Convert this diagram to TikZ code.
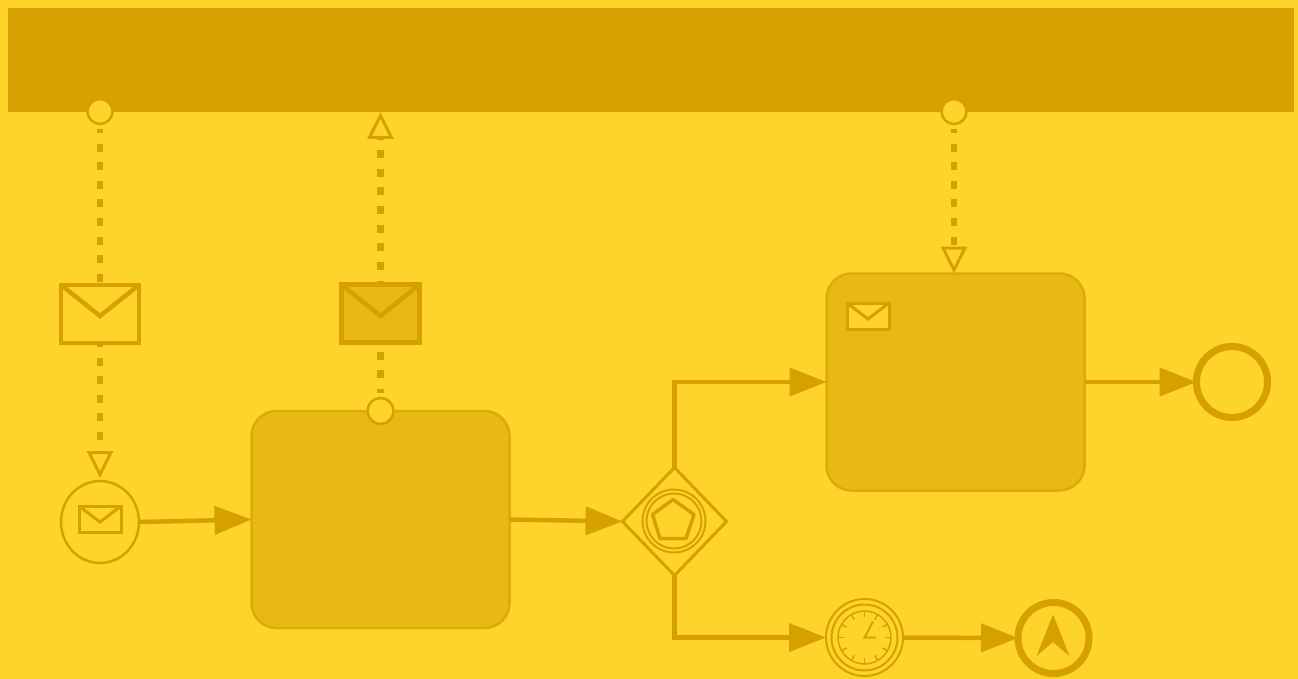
\documentclass[tikz,border=0pt]{standalone}
\usetikzlibrary{arrows.meta,shapes.geometric,calc}
\definecolor{bgc}{HTML}{FFD42A}
\definecolor{ink}{HTML}{D6A000}
\definecolor{taskc}{HTML}{E8B914}
\tikzset{
  every node/.style={inner sep=0pt,outer sep=0pt},
  seqflow/.style={draw=ink,line width=4.5pt,-{Triangle[length=37pt,width=28pt]}},
  msgflow/.style={draw=ink,line width=6.5pt,dash pattern=on 8pt off 10.6pt},
  msgtip/.style={draw=ink,line width=6.5pt,dash pattern=on 8pt off 10.6pt,-{Triangle[open,length=27pt,width=26pt,line width=3pt,fill=bgc]}},
  port/.style={circle,draw=ink,fill=bgc,line width=2.5pt,minimum size=25pt},
  taskbox/.style={rectangle,rounded corners=25pt,draw=ink!60!taskc,fill=taskc,line width=2.5pt,minimum width=258pt,minimum height=217pt},
  bigenv/.style={rectangle,draw=ink,line width=4.5pt,minimum width=78pt,minimum height=58pt},
  smallenv/.style={rectangle,draw=ink,fill=bgc,line width=3pt,minimum width=42pt,minimum height=26pt},
  endev/.style={circle,draw=ink,fill=bgc,line width=7pt,minimum size=71pt},
  thin ring/.style={circle,draw=ink,line width=2pt},
  flap/.style={draw=ink,line join=miter}
}
\begin{document}
\begin{tikzpicture}[x=1pt,y=-1pt]
\useasboundingbox (0,0) rectangle (1298,679);
\fill[bgc] (0,0) rectangle (1298,679);
% pool
\node[rectangle,fill=ink,minimum width=1286pt,minimum height=104pt] (pool) at (650.5,60) {};
% tasks
\node[taskbox] (taskA) at (380.5,519.5) {};
\node[taskbox] (taskB) at (955.5,382) {};
% ports
\node[port] (portA) at (100,111.5) {};
\node[port,minimum size=26pt] (portB) at (380.5,411) {};
\node[port] (portC) at (954,111.5) {};
% message envelopes
\node[bigenv] (envA) at (100,314) {};
\draw[flap,line width=4.5pt] (envA.north west) -- (100,316) -- (envA.north east);
\node[bigenv,fill=taskc] (envB) at (380.5,313.5) {};
\draw[flap,line width=4.5pt] (envB.north west) -- (380.5,316) -- (envB.north east);
% start event
\node[ellipse,draw=ink,line width=2.5pt,minimum width=78pt,minimum height=82pt] (start) at (100,522) {};
\node[smallenv] (envS) at (100,519) {};
\draw[flap,line width=3pt] (envS.north west) -- (100,522) -- (envS.north east);
% task envelope
\node[smallenv] (envT) at (868,316) {};
\draw[flap,line width=3pt] (envT.north west) -- (868,319) -- (envT.north east);
% gateway
\node[diamond,draw=ink,line width=3pt,minimum width=104pt,minimum height=108pt,aspect=1] (gate) at (674.5,521.5) {};
\node[thin ring,minimum size=63pt] (gateO) at (674,521) {};
\node[thin ring,minimum size=55pt] (gateI) at (674,521) {};
\draw[draw=ink,line width=3.5pt,line join=round] (673,499.5) -- (694,514.5) -- (686,538.5) -- (660,538.5) -- (652.5,514.5) -- cycle;
% timer event
\node[thin ring,minimum size=77pt] (timer) at (864.5,637.5) {};
\node[thin ring,minimum size=66pt] (timerI) at (864.5,637.5) {};
\node[thin ring,line width=1.5pt,minimum size=53pt] (clock) at (864.5,637.5) {};
\foreach \a in {0,30,...,330}
  \draw[ink,line width=1.5pt] (clock.\a) -- ($(clock.center)!0.78!(clock.\a)$);
\draw[ink,line width=2pt] (875.5,637.5) -- (clock.center) -- (873,621.5);
% end events
\node[endev] (endA) at (1232,382) {};
\node[endev] (endB) at (1053.5,638) {};
\fill[ink] (1053,614.5) -- (1069.5,656) -- (1053,642) -- (1036.5,656) -- cycle;
% sequence flows
\draw[seqflow] (start.east) -- (taskA.west);
\draw[seqflow] (taskA.east) -- (gate.west);
\draw[seqflow] (gate.north) -- (gate.north |- taskB.west) -- (taskB.west);
\draw[seqflow] (gate.south) -- (gate.south |- timer.west) -- (timer.west);
\draw[seqflow] (timer.east) -- (endB.west);
\draw[seqflow] (taskB.east) -- (endA.west);
% message flows
\draw[msgflow,dash phase=4pt] ($(portA.south)+(0,5)$) -- (envA.north);
\draw[msgtip,dash phase=4pt,shorten >=3pt] (envA.south) -- (start.north);
\draw[msgflow,dash phase=4pt] ($(portB.north)+(0,-5)$) -- (envB.south);
\draw[msgtip,dash phase=4pt] (envB.north) -- (pool.south -| envB.north);
\draw[msgtip,dash phase=4pt] ($(portC.south)+(0,5)$) -- (portC.south |- taskB.north);
\end{tikzpicture}
\end{document}
